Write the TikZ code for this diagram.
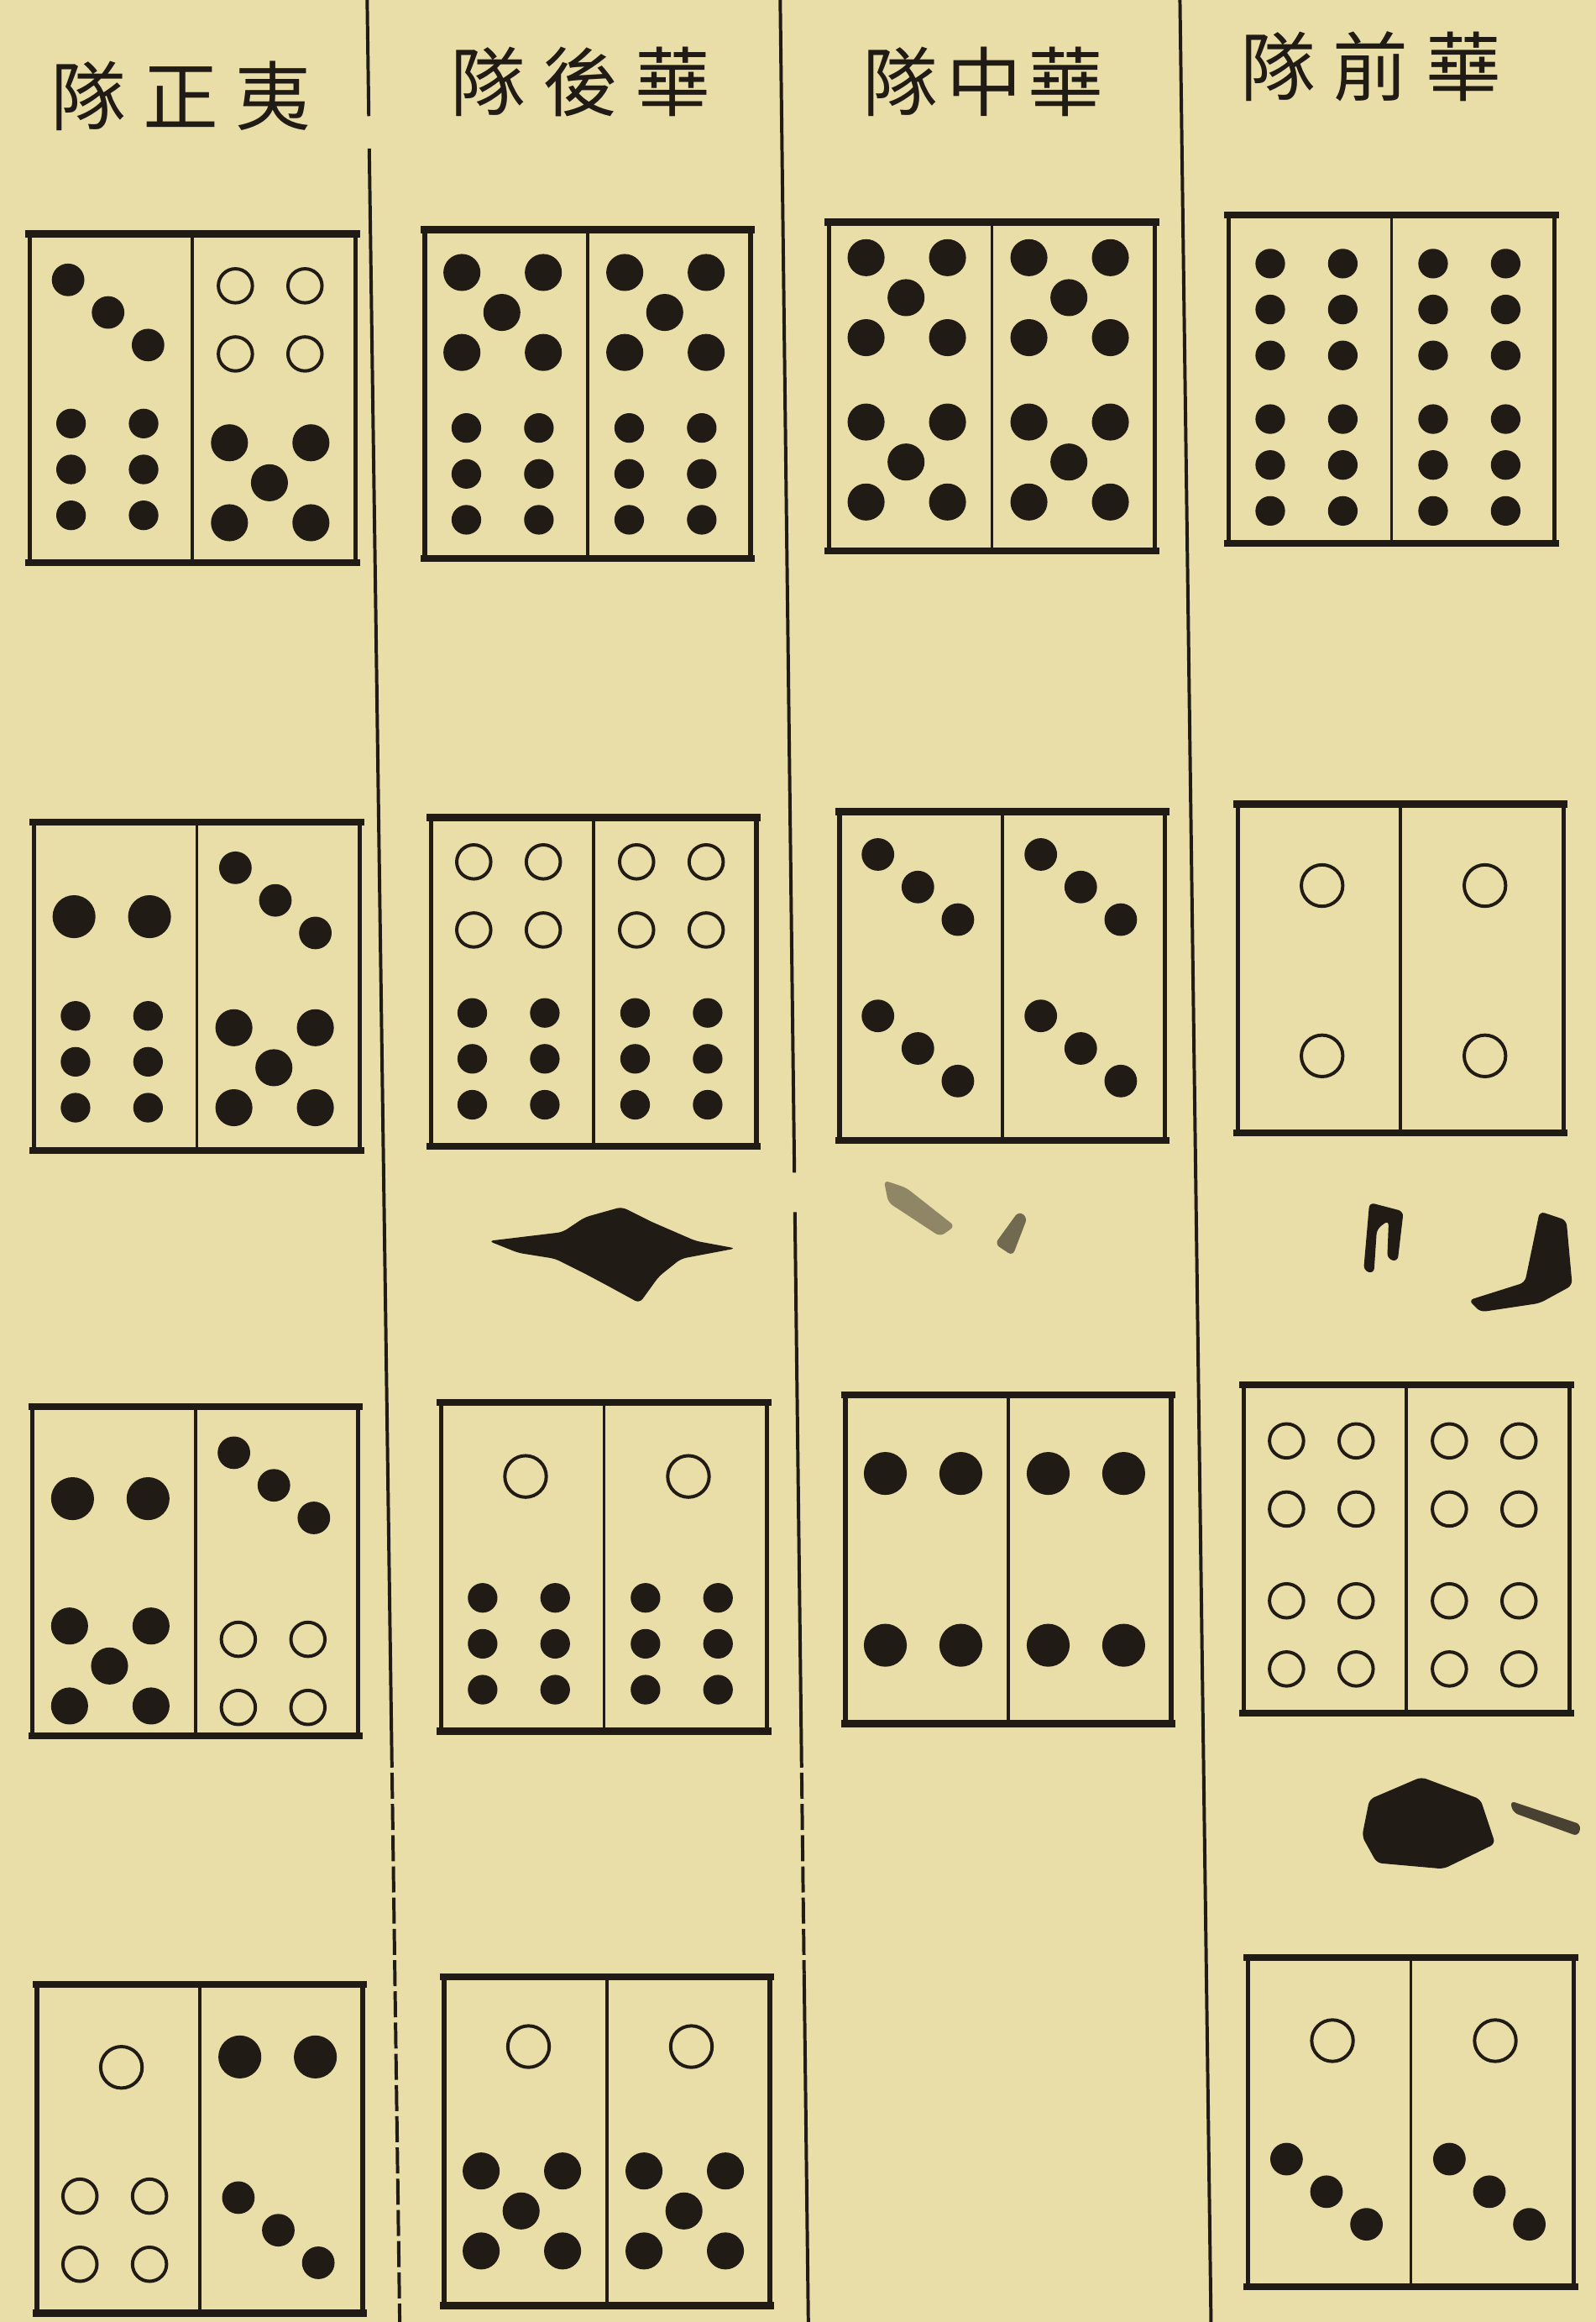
\documentclass[tikz,border=0pt]{standalone}
\usepackage{fontspec}
\newfontfamily\cjk{Noto Sans CJK TC}
\usepackage{tikz}
\usetikzlibrary{calc}
\definecolor{paper}{RGB}{234, 222, 168}
\definecolor{ink}{RGB}{33, 27, 22}

% pip groups, in the frame of one half of a tile (110 x 222)
\newcommand{\pone}[1]{\draw[hole] (57, #1) circle (14);}
\newcommand{\ptwo}[1]{\foreach \u in {27, 78} {\fill[ink] (\u, #1) circle (14.5);}}
\newcommand{\pthree}[1]{\foreach \u/\d in {26/-22, 53/0, 80/22} {\fill[ink] (\u, {#1+\d}) circle (11);}}
\newcommand{\pfour}[1]{\foreach \u in {29, 76} {\foreach \d in {-23, 23} {\draw[hole] (\u, {#1+\d}) circle (11.5);}}}
\newcommand{\pfive}[1]{\foreach \u/\d in {25/-27, 80/-27, 52/0, 25/27, 80/27} {\fill[ink] (\u, {#1+\d}) circle (12.5);}}
\newcommand{\psix}[1]{\foreach \u in {28, 77} {\foreach \d in {-31, 0, 31} {\fill[ink] (\u, {#1+\d}) circle (10);}}}
\newcommand{\tileframe}{%
  \draw[side] (0, 0) -- (0, 222);
  \draw[side] (220, 0) -- (220, 222);
  \draw[split] (110, 0) -- (110, 222);
  \draw[rim] (-3, 0) -- (223, 0);
  \draw[rim] (-3, 222) -- (223, 222);}

\begin{document}
\begin{tikzpicture}[x=0.2mm, y=-0.2mm,
    hole/.style={draw=ink, line width=0.45mm},
    rim/.style={draw=ink, line width=0.95mm},
    side/.style={draw=ink, line width=0.6mm},
    split/.style={draw=ink, line width=0.4mm},
    rule/.style={draw=ink, line width=0.45mm},
    blot/.style={fill=ink, rounded corners=2pt},
    head/.style={font=\cjk\fontsize{29}{29}\selectfont, text=ink, inner sep=0pt}]

  \fill[paper] (0, 0) rectangle (1078, 1568);
  \useasboundingbox (0, 0) rectangle (1078, 1568);

  % column rules
  \coordinate (ruleAtop) at (248, 0);
  \coordinate (ruleAbot) at (270, 1568);
  \coordinate (ruleBtop) at (527, 0);
  \coordinate (ruleBbot) at (546, 1568);
  \coordinate (ruleCtop) at (797, 0);
  \coordinate (ruleCbot) at (818, 1568);

  \draw[rule] (ruleAtop) -- ($(ruleAtop)!0.05!(ruleAbot)$);
  \draw[rule] ($(ruleAtop)!0.064!(ruleAbot)$) -- ($(ruleAtop)!0.75!(ruleAbot)$);
  \draw[rule, dash pattern=on 10pt off 2pt] ($(ruleAtop)!0.75!(ruleAbot)$) -- (ruleAbot);
  \draw[rule] (ruleBtop) -- ($(ruleBtop)!0.505!(ruleBbot)$);
  \draw[rule] ($(ruleBtop)!0.522!(ruleBbot)$) -- ($(ruleBtop)!0.75!(ruleBbot)$);
  \draw[rule, dash pattern=on 10pt off 2pt] ($(ruleBtop)!0.75!(ruleBbot)$) -- ($(ruleBtop)!0.85!(ruleBbot)$);
  \draw[rule] ($(ruleBtop)!0.85!(ruleBbot)$) -- (ruleBbot);
  \draw[rule] (ruleCtop) -- (ruleCbot);

  % headings
  \node[head] (headA) at (122, 65) {隊\hspace{2.3mm}正\hspace{2.3mm}夷};
  \node[head] (headB) at (392, 55) {隊\hspace{2.3mm}後\hspace{2.3mm}華};
  \node[head] (headC) at (664, 55) {隊\hspace{1.2mm}中\hspace{0.8mm}華};
  \node[head] (headD) at (926, 45) {隊\hspace{2.3mm}前\hspace{2.3mm}華};

  % row 1
  \begin{scope}[shift={(20, 158)}]
    \tileframe
    \pthree{53} \psix{159}
    \begin{scope}[shift={(110, 0)}] \pfour{58} \pfive{168} \end{scope}
  \end{scope}

  \begin{scope}[shift={(287, 155)}]
    \tileframe
    \pfive{56} \psix{165}
    \begin{scope}[shift={(110, 0)}] \pfive{56} \psix{165} \end{scope}
  \end{scope}

  \begin{scope}[shift={(560, 150)}]
    \tileframe
    \pfive{51} \pfive{162}
    \begin{scope}[shift={(110, 0)}] \pfive{51} \pfive{162} \end{scope}
  \end{scope}

  \begin{scope}[shift={(830, 145)}]
    \tileframe
    \psix{64} \psix{169}
    \begin{scope}[shift={(110, 0)}] \psix{64} \psix{169} \end{scope}
  \end{scope}

  % row 2
  \begin{scope}[shift={(23, 555)}]
    \tileframe
    \ptwo{64} \psix{162}
    \begin{scope}[shift={(110, 0)}] \pthree{53} \pfive{166} \end{scope}
  \end{scope}

  \begin{scope}[shift={(291, 552)}]
    \tileframe
    \pfour{53} \psix{163}
    \begin{scope}[shift={(110, 0)}] \pfour{53} \psix{163} \end{scope}
  \end{scope}

  \begin{scope}[shift={(567, 548)}]
    \tileframe
    \pthree{51} \pthree{160}
    \begin{scope}[shift={(110, 0)}] \pthree{51} \pthree{160} \end{scope}
  \end{scope}

  \begin{scope}[shift={(836, 543)}]
    \tileframe
    \pone{55} \pone{170}
    \begin{scope}[shift={(110, 0)}] \pone{55} \pone{170} \end{scope}
  \end{scope}

  % row 3
  \begin{scope}[shift={(22, 950)}]
    \tileframe
    \ptwo{62} \pfive{175}
    \begin{scope}[shift={(110, 0)}] \pthree{53} \pfour{180} \end{scope}
  \end{scope}

  \begin{scope}[shift={(298, 947)}]
    \tileframe
    \pone{50} \psix{163}
    \begin{scope}[shift={(110, 0)}] \pone{50} \psix{163} \end{scope}
  \end{scope}

  \begin{scope}[shift={(571, 942)}]
    \tileframe
    \ptwo{53} \ptwo{169}
    \begin{scope}[shift={(110, 0)}] \ptwo{53} \ptwo{169} \end{scope}
  \end{scope}

  \begin{scope}[shift={(840, 935)}]
    \tileframe
    \pfour{61} \pfour{169}
    \begin{scope}[shift={(110, 0)}] \pfour{61} \pfour{169} \end{scope}
  \end{scope}

  % row 4
  \begin{scope}[shift={(25, 1340)}]
    \tileframe
    \pone{56} \pfour{166}
    \begin{scope}[shift={(110, 0)}] \ptwo{49} \pthree{166} \end{scope}
  \end{scope}

  \begin{scope}[shift={(300, 1335)}]
    \tileframe
    \pone{47} \pfive{158}
    \begin{scope}[shift={(110, 0)}] \pone{47} \pfive{158} \end{scope}
  \end{scope}

  \begin{scope}[shift={(843, 1322)}]
    \tileframe
    \pone{56} \pthree{158}
    \begin{scope}[shift={(110, 0)}] \pone{56} \pthree{158} \end{scope}
  \end{scope}

  % ink stains
  \fill[blot] (330, 838) -- (380, 832) -- (395, 822) -- (420, 815) -- (440, 825)
    -- (470, 838) -- (497, 843) -- (460, 850) -- (445, 862) -- (432, 880)
    -- (410, 868) -- (395, 860) -- (375, 850) -- (350, 846) -- cycle;
  \fill[blot, opacity=0.45] (597, 797) -- (612, 802) -- (645, 828) -- (635, 835) -- (600, 812) -- cycle;
  \fill[blot, opacity=0.6] (672, 840) -- (688, 818) -- (694, 822) -- (684, 848) -- cycle;
  \fill[blot] (925, 812) -- (948, 818) -- (944, 852) -- (937, 850) -- (938, 824) -- (930, 830)
    -- (928, 860) -- (921, 858) -- cycle;
  \fill[blot] (1040, 818) -- (1058, 824) -- (1062, 868) -- (1040, 880) -- (1000, 886)
    -- (992, 878) -- (1030, 866) -- cycle;
  \fill[blot] (925, 1215) -- (960, 1200) -- (1000, 1215) -- (1010, 1245) -- (975, 1262)
    -- (930, 1258) -- (920, 1240) -- cycle;
  \fill[blot, opacity=0.8] (1020, 1216) -- (1068, 1232) -- (1066, 1240) -- (1022, 1224) -- cycle;

\end{tikzpicture}
\end{document}
